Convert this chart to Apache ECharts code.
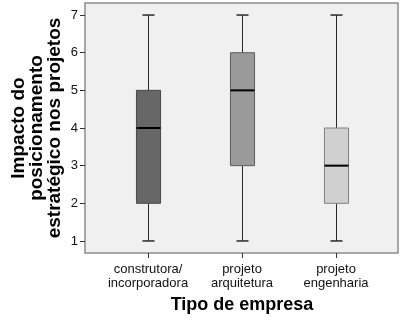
<!DOCTYPE html>
<html>
<head>
<meta charset="utf-8">
<script src="https://cdn.jsdelivr.net/npm/echarts@6/dist/echarts.min.js"></script>
<style>
html,body{margin:0;padding:0;background:#fff;}
#c{width:404px;height:325px;}
</style>
</head>
<body>
<div id="c"></div>
<script>
var categories = ['construtora/\nincorporadora', 'projeto\narquitetura', 'projeto\nengenharia'];
var minVals = [1, 1, 1];
var q1Vals = [2, 3, 2];
var medianVals = [4, 5, 3];
var q3Vals = [5, 6, 4];
var maxVals = [7, 7, 7];
var yTicks = [1, 2, 3, 4, 5, 6, 7];
var boxColors = ['#676767', '#9a9a9a', '#d0d0d0'];
var boxBorders = ['#4a4a4a', '#5e5e5e', '#808080'];

var FONT = 'Arial, "Liberation Sans", sans-serif';
var chart = echarts.init(document.getElementById('c'), null, {renderer: 'canvas'});

var data = categories.map(function (c, i) {
  return [i, minVals[i], q1Vals[i], medianVals[i], q3Vals[i], maxVals[i]];
});

chart.setOption({
  animation: false,
  backgroundColor: '#ffffff',
  grid: [
    {left: 85, top: 3, width: 313, height: 250, show: true, backgroundColor: '#f0f0f0', borderColor: '#8c8c8c', borderWidth: 1.5, containLabel: false, outerBoundsMode: 'none'},
    {left: 101, top: 3, width: 282, height: 250, containLabel: false, outerBoundsMode: 'none'}
  ],
  xAxis: [
    {type: 'value', gridIndex: 0, show: false, min: 0, max: 1},
    {
      type: 'category', gridIndex: 1, data: categories, boundaryGap: true,
      axisLine: {show: false},
      axisTick: {show: true, alignWithLabel: true, length: 5, lineStyle: {color: '#333'}},
      axisLabel: {fontFamily: FONT, fontSize: 13, color: '#111', lineHeight: 14, margin: 9, interval: 0},
      name: 'Tipo de empresa', nameLocation: 'middle', nameGap: 43, nameMoveOverlap: false,
      nameTextStyle: {fontFamily: FONT, fontSize: 18, fontWeight: 'bold', color: '#000'}
    }
  ],
  yAxis: [
    {
      type: 'value', gridIndex: 0, min: 0.68, max: 7.32,
      axisLine: {show: false},
      splitLine: {show: false},
      axisTick: {show: true, length: 5, customValues: yTicks, lineStyle: {color: '#333'}},
      axisLabel: {fontFamily: FONT, fontSize: 13, color: '#111', margin: 7, customValues: yTicks},
      name: 'Impacto do\nposicionamento\nestratégico nos projetos',
      nameLocation: 'middle', nameRotate: 90, nameGap: 21, nameMoveOverlap: false,
      nameTextStyle: {fontFamily: FONT, fontSize: 19, fontWeight: 'bold', color: '#000', lineHeight: 18, align: 'center'}
    },
    {type: 'value', gridIndex: 1, min: 0.68, max: 7.32, show: false}
  ],
  series: [{
    type: 'custom',
    xAxisIndex: 1, yAxisIndex: 1,
    data: data,
    encode: {x: 0, y: [1, 2, 3, 4, 5]},
    renderItem: function (params, api) {
      var i = api.value(0);
      var pMin = api.coord([i, api.value(1)]);
      var pQ1 = api.coord([i, api.value(2)]);
      var pMed = api.coord([i, api.value(3)]);
      var pQ3 = api.coord([i, api.value(4)]);
      var pMax = api.coord([i, api.value(5)]);
      var band = api.size([1, 0])[0];
      var hw = band * 0.128;
      var cw = band * 0.064;
      var x = Math.round(pMin[0]) + 0.5;
      var wStyle = {stroke: '#2a2a2a', lineWidth: 1};
      return {
        type: 'group',
        children: [
          {type: 'line', shape: {x1: x, y1: pMax[1], x2: x, y2: pQ3[1]}, style: wStyle},
          {type: 'line', shape: {x1: x, y1: pQ1[1], x2: x, y2: pMin[1]}, style: wStyle},
          {type: 'line', shape: {x1: x - cw, y1: pMax[1], x2: x + cw, y2: pMax[1]}, style: {stroke: '#2a2a2a', lineWidth: 1.5}},
          {type: 'line', shape: {x1: x - cw, y1: pMin[1], x2: x + cw, y2: pMin[1]}, style: {stroke: '#2a2a2a', lineWidth: 1.5}},
          {type: 'rect', shape: {x: x - hw, y: pQ3[1], width: hw * 2, height: pQ1[1] - pQ3[1]},
            style: {fill: boxColors[i], stroke: boxBorders[i], lineWidth: 1}},
          {type: 'line', shape: {x1: x - hw, y1: pMed[1], x2: x + hw, y2: pMed[1]}, style: {stroke: '#000', lineWidth: 2}}
        ]
      };
    }
  }]
});
</script>
</body>
</html>
